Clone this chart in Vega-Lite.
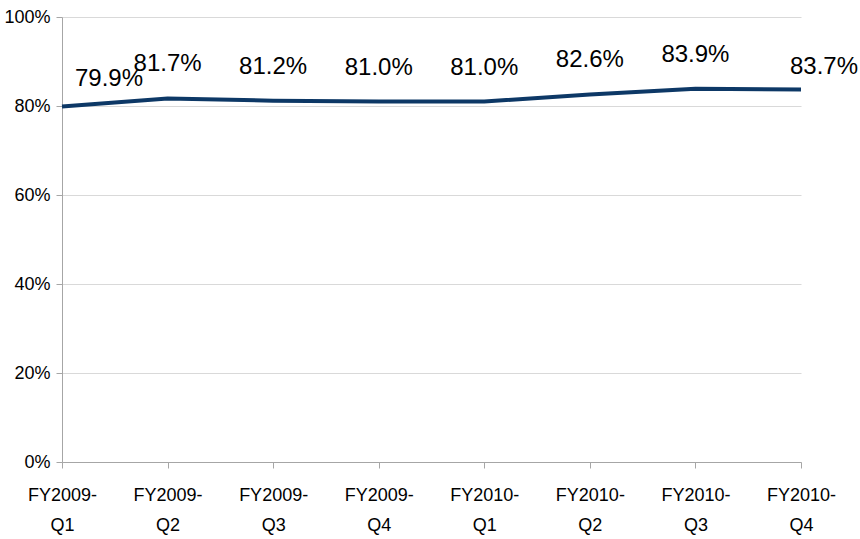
{
  "$schema": "https://vega.github.io/schema/vega-lite/v6.json",
  "width": 739,
  "height": 445,
  "autosize": {"type": "none"},
  "padding": {"left": 62, "top": 17, "right": 59, "bottom": 77},
  "background": "white",
  "config": {"view": {"stroke": null}, "font": "Liberation Sans"},
  "data": {
    "values": [
      {"q": "FY2009-Q1", "v": 0.799},
      {"q": "FY2009-Q2", "v": 0.817},
      {"q": "FY2009-Q3", "v": 0.812},
      {"q": "FY2009-Q4", "v": 0.810},
      {"q": "FY2010-Q1", "v": 0.810},
      {"q": "FY2010-Q2", "v": 0.826},
      {"q": "FY2010-Q3", "v": 0.839},
      {"q": "FY2010-Q4", "v": 0.837}
    ]
  },
  "encoding": {
    "x": {
      "field": "q", "type": "ordinal", "sort": null,
      "scale": {"type": "point", "padding": 0},
      "axis": {
        "title": null, "labelAngle": 0, "labelFontSize": 18, "labelColor": "#000",
        "labelExpr": "[slice(datum.label,0,7), slice(datum.label,7)]",
        "labelLineHeight": 30, "labelPadding": 27, "labelBaseline": "middle",
        "tickSize": 6, "tickColor": "#a6a6a6", "domainColor": "#a6a6a6",
        "grid": false
      }
    },
    "y": {
      "field": "v", "type": "quantitative",
      "scale": {"domain": [0, 1], "nice": false},
      "axis": {
        "title": null, "format": ".0%", "values": [0, 0.2, 0.4, 0.6, 0.8, 1],
        "labelFontSize": 18, "labelColor": "#000", "labelPadding": 6,
        "tickSize": 6, "tickColor": "#a6a6a6", "domainColor": "#a6a6a6",
        "gridColor": "#d9d9d9", "gridWidth": 1
      }
    }
  },
  "layer": [
    {"mark": {"type": "line", "color": "#0d3866", "strokeWidth": 4}},
    {
      "transform": [{"filter": "datum.q != 'FY2009-Q1' && datum.q != 'FY2010-Q4'"}],
      "mark": {"type": "text", "fontSize": 24, "dy": -34, "baseline": "middle", "color": "#000"},
      "encoding": {"text": {"field": "v", "format": ".1%"}}
    },
    {
      "transform": [{"filter": "datum.q == 'FY2009-Q1'"}],
      "mark": {"type": "text", "fontSize": 24, "dx": 47, "dy": -27, "baseline": "middle", "color": "#000"},
      "encoding": {"text": {"field": "v", "format": ".1%"}}
    },
    {
      "transform": [{"filter": "datum.q == 'FY2010-Q4'"}],
      "mark": {"type": "text", "fontSize": 24, "dx": 23, "dy": -23, "baseline": "middle", "color": "#000"},
      "encoding": {"text": {"field": "v", "format": ".1%"}}
    }
  ]
}
